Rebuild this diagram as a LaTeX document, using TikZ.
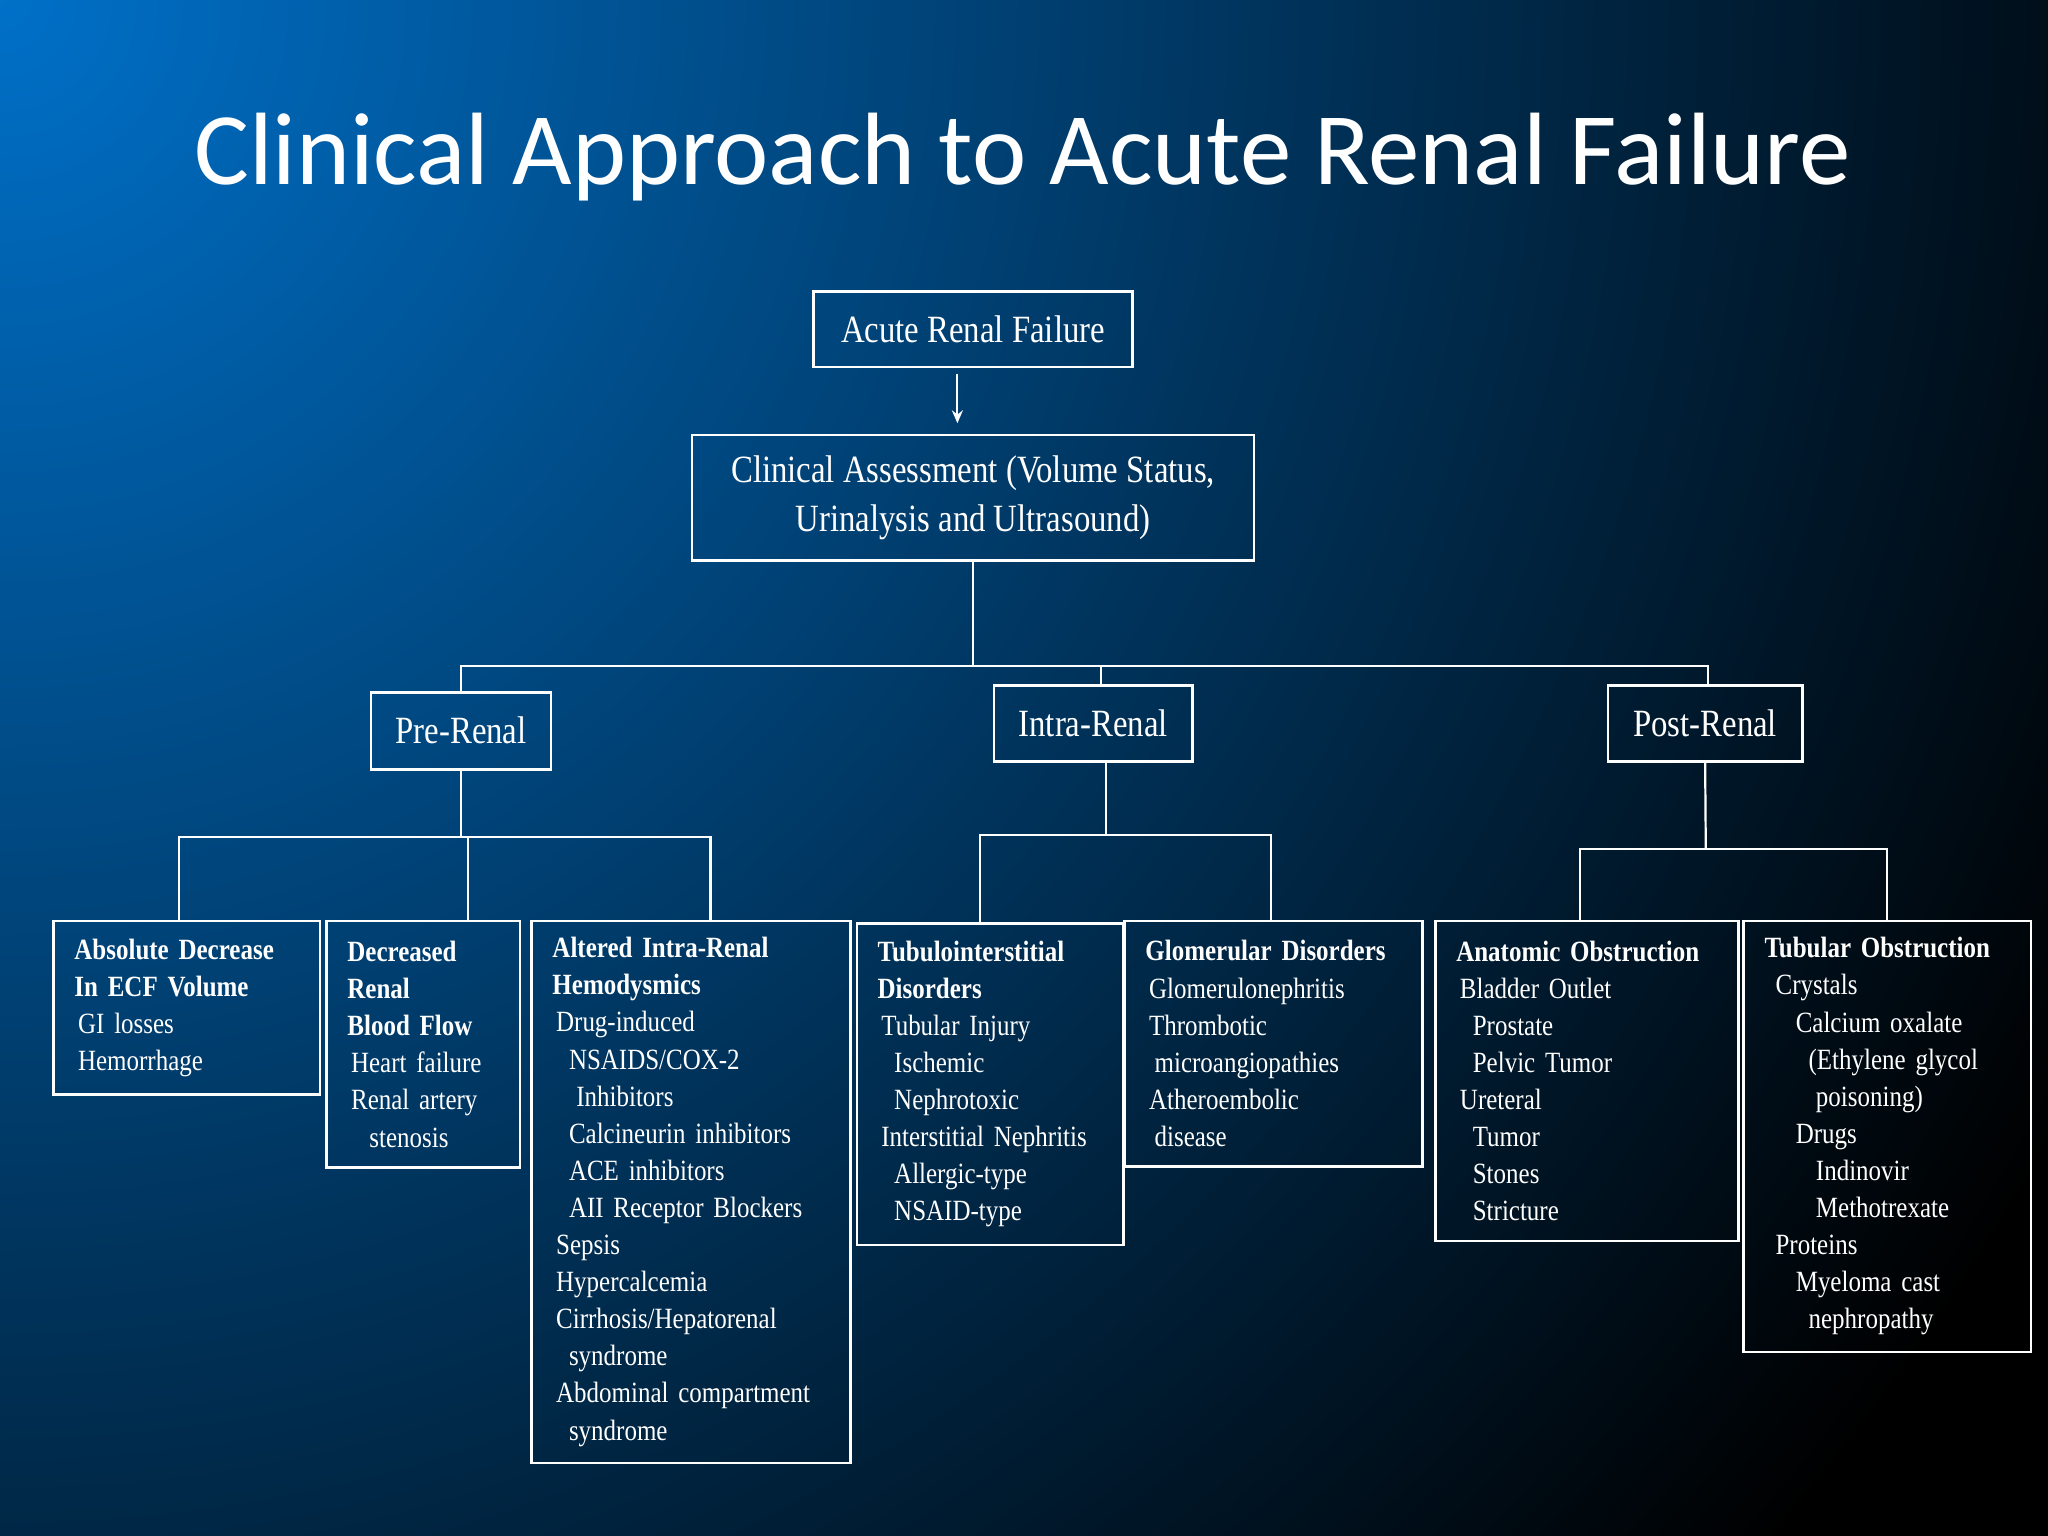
\documentclass[tikz,border=0pt]{standalone}
\usepackage{fontspec}
\setmainfont{Liberation Serif}[FakeStretch=0.85]
\newfontfamily\titlefont{Carlito}
\usetikzlibrary{positioning,arrows.meta,calc}
\definecolor{slideblue}{RGB}{0,112,200}
\tikzset{
	topbox/.style={draw=white,line width=1.4pt,text=white,align=center,font=\fontsize{21}{27}\selectfont},
	leafbox/.style={draw=white,line width=1.4pt,text=white,anchor=north west,align=left,inner xsep=0.4cm,inner ysep=0pt,font=\fontsize{16}{20.2}\selectfont},
	link/.style={draw=white,line width=1.2pt},
	dirlink/.style={->,>={Stealth[width=6pt,length=7pt]},draw=white,line width=1.2pt}
}
\newcommand{\lv}[1]{\hspace*{#1}}

\begin{document}
\begin{tikzpicture}[x=0.025cm,y=-0.025cm]
		%%% background
		\fill[black] (0,0) rectangle (1568,1176);
		\begin{scope}
		\clip (0,0) rectangle (1568,1176);
		\shade[inner color=slideblue,outer color=black] (0,0) circle (1800);
		\end{scope}
		\useasboundingbox (0,0) rectangle (1568,1176);
		
		\node[text=white,font=\titlefont\fontsize{56}{64}\selectfont] (title) at (783,120) {Clinical Approach to Acute Renal Failure};
		
		%%% top levels
		\node[topbox,minimum width=6.1cm,minimum height=1.45cm] (arf) at (745,252) {Acute Renal Failure};
		\node[topbox,minimum width=10.75cm,minimum height=2.4cm] (ca) at (745,381) {Clinical Assessment (Volume Status,\\Urinalysis and Ultrasound)};
		\node[topbox,minimum width=3.45cm,minimum height=1.475cm] (pre) at (353,559.5) {Pre-Renal};
		\node[topbox,minimum width=3.8cm,minimum height=1.45cm] (intra) at (837,554) {Intra-Renal};
		\node[topbox,minimum width=3.725cm,minimum height=1.45cm] (post) at (1305.5,554) {Post-Renal};
		
		%%% leaves
		\node[leafbox,minimum width=4.9cm,minimum height=3.325cm,text width=4.3cm] (ecf) at (40,704)
		{\textbf{Absolute Decrease}\\\textbf{In ECF Volume}\\\lv{2pt}GI losses\\\lv{2pt}Hemorrhage};
		\node[leafbox,minimum width=3.475cm,minimum height=4.725cm,text width=2.9cm] (rbf) at (249,704)
		{\textbf{Decreased}\\\textbf{Renal}\\\textbf{Blood Flow}\\\lv{2pt}Heart failure\\\lv{2pt}Renal artery\\\lv{12pt}stenosis};
		\node[leafbox,minimum width=5.85cm,minimum height=10.375cm,text width=5.3cm] (hemo) at (406,704)
		{\textbf{Altered Intra-Renal}\\\textbf{Hemodysmics}\\\lv{2pt}Drug-induced\\\lv{9pt}NSAIDS/COX-2\\\lv{13pt}Inhibitors\\\lv{9pt}Calcineurin inhibitors\\\lv{9pt}ACE inhibitors\\\lv{9pt}AII Receptor Blockers\\\lv{2pt}Sepsis\\\lv{2pt}Hypercalcemia\\\lv{2pt}Cirrhosis/Hepatorenal\\\lv{9pt}syndrome\\\lv{2pt}Abdominal compartment\\\lv{9pt}syndrome};
		\node[leafbox,minimum width=4.875cm,minimum height=6.15cm,text width=4.3cm] (tubint) at (655,706)
		{\textbf{Tubulointerstitial}\\\textbf{Disorders}\\\lv{2pt}Tubular Injury\\\lv{9pt}Ischemic\\\lv{9pt}Nephrotoxic\\\lv{2pt}Interstitial Nephritis\\\lv{9pt}Allergic-type\\\lv{9pt}NSAID-type};
		\node[leafbox,minimum width=5.45cm,minimum height=4.7cm,text width=4.9cm] (glom) at (860,704)
		{\textbf{Glomerular Disorders}\\\lv{2pt}Glomerulonephritis\\\lv{2pt}Thrombotic\\\lv{5pt}microangiopathies\\\lv{2pt}Atheroembolic\\\lv{5pt}disease};
		\node[leafbox,minimum width=5.525cm,minimum height=6.125cm,text width=5cm] (anat) at (1098,704)
		{\textbf{Anatomic Obstruction}\\\lv{2pt}Bladder Outlet\\\lv{9pt}Prostate\\\lv{9pt}Pelvic Tumor\\\lv{2pt}Ureteral\\\lv{9pt}Tumor\\\lv{9pt}Stones\\\lv{9pt}Stricture};
		\node[leafbox,minimum width=5.2cm,minimum height=8.25cm,text width=4.7cm] (tubob) at (1334,704)
		{\textbf{Tubular Obstruction}\\\lv{6pt}Crystals\\\lv{17pt}Calcium oxalate\\\lv{24pt}(Ethylene glycol\\\lv{28pt}poisoning)\\\lv{17pt}Drugs\\\lv{28pt}Indinovir\\\lv{28pt}Methotrexate\\\lv{6pt}Proteins\\\lv{17pt}Myeloma cast\\\lv{24pt}nephropathy};
		
		%%% connectors
		\draw[dirlink] ($(arf.south)+(-12,4)$) -- ($(ca.north)+(-12,-8)$);
		\coordinate (cabus) at (745,510);
		\draw[link] (ca.south) -- (cabus);
		\draw[link] (cabus) -| (pre.north);
		\draw[link] (cabus) -| ($(intra.north)+(6,0)$);
		\draw[link] (cabus) -| ($(post.north)+(2,0)$);
		
		\coordinate (prebus) at (353,641);
		\draw[link] (pre.south) -- (prebus);
		\draw[link] (prebus) -| ($(ecf.north)+(-6,0)$);
		\draw[link] (prebus) -| ($(rbf.north)+(34.5,0)$);
		\draw[link] (prebus) -| ($(hemo.north)+(15,0)$);
		
		\coordinate (intrabus) at (847,639);
		\draw[link] ($(intra.south)+(10,0)$) -- (intrabus);
		\draw[link] (intrabus) -| ($(tubint.north)+(-7.5,0)$);
		\draw[link] (intrabus) -| ($(glom.north)+(-2,0)$);
		
		\coordinate (postbus) at (1306,650);
		\draw[link] (post.south) -- (postbus);
		\draw[link] (postbus) -| ($(anat.north)+(-5.5,0)$);
		\draw[link] (postbus) -| ($(tubob.north)+(0,0)$);
	\end{tikzpicture}
\end{document}
